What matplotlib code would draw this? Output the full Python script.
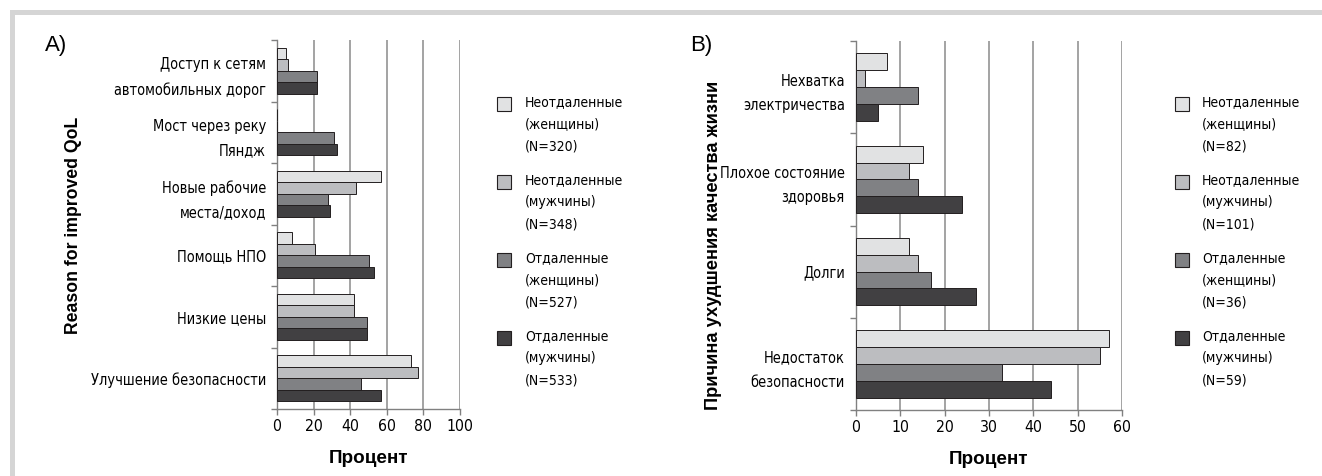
import numpy as np
import matplotlib
matplotlib.use('Agg')
import matplotlib.pyplot as plt
from matplotlib.patches import Rectangle

# DejaVu Sans Condensed stands in for the narrow font of the original
plt.rcParams['font.family'] = ['DejaVu Sans']
plt.rcParams['font.stretch'] = 'condensed'
wide = ['Liberation Sans', 'DejaVu Sans']

# --- data ---
series_names = ['Неотдаленные\n(женщины)', 'Неотдаленные\n(мужчины)',
                'Отдаленные\n(женщины)', 'Отдаленные\n(мужчины)']
colors = ['#e1e2e3', '#bcbdc0', '#808184', '#414042']

cats_a = ['Доступ к сетям\nавтомобильных дорог', 'Мост через реку\nПяндж',
          'Новые рабочие\nместа/доход', 'Помощь НПО', 'Низкие цены',
          'Улучшение безопасности']
vals_a = [
    [5, 0, 57, 8, 42, 73],     # неотдаленные женщины
    [6, 0, 43, 21, 42, 77],    # неотдаленные мужчины
    [22, 31, 28, 50, 49, 46],  # отдаленные женщины
    [22, 33, 29, 53, 49, 57],  # отдаленные мужчины
]
n_a = [320, 348, 527, 533]

cats_b = ['Нехватка\nэлектричества', 'Плохое состояние\nздоровья', 'Долги',
          'Недостаток\nбезопасности']
vals_b = [
    [7, 15, 12, 57],
    [2, 12, 14, 55],
    [14, 14, 17, 33],
    [5, 24, 27, 44],
]
n_b = [82, 101, 36, 59]

W, H = 1322, 476
fig = plt.figure(figsize=(W / 100, H / 100), dpi=100)
fig.patch.set_facecolor('white')
renderer = fig.canvas.get_renderer()


def fit_size(s, target_px, family=None, weight='normal', stretch='condensed'):
    t = fig.text(0, 0, s, fontsize=10, fontweight=weight, fontstretch=stretch,
                 family=family if family else plt.rcParams['font.family'])
    w = t.get_window_extent(renderer).width
    t.remove()
    return 10 * target_px / w


def line_step(size):
    a = fig.text(0, 0, 'Д', fontsize=size, linespacing=1.0)
    b = fig.text(0, 0, 'Д\nД', fontsize=size, linespacing=1.0)
    step = b.get_window_extent(renderer).height - a.get_window_extent(renderer).height
    a.remove()
    b.remove()
    return step


lab_size = min(fit_size('Улучшение безопасности', 176), 12)
tick_size = min(fit_size('100', 27), 12)
leg_size = min(fit_size('Неотдаленные', 98), 12)
xl_size = fit_size('Процент', 79, wide, 'bold', 'normal')
yl_size = fit_size('Reason for improved QoL', 216, wide, 'bold', 'normal')
yl_size_b = fit_size('Причина ухудшения качества жизни', 330, wide, 'bold', 'normal')
lab_ls = 27 / line_step(lab_size)
leg_ls = 24.5 / line_step(leg_size)

# light gray frame on top and left
fig.patches.append(Rectangle((10 / W, 0), 5 / W, 1 - 10 / H, transform=fig.transFigure,
                             facecolor='#d5d5d5', edgecolor='none'))
fig.patches.append(Rectangle((10 / W, 1 - 15 / H), 1 - 10 / W, 5 / H, transform=fig.transFigure,
                             facecolor='#d5d5d5', edgecolor='none'))


def px_box(l, t, r, b):
    return [l / W, 1 - b / H, (r - l) / W, (b - t) / H]


def draw_panel(ax, cats, vals, group_frac, xmax, xstep):
    n = len(cats)
    y = np.arange(n)
    bh = group_frac / 4
    for i, v in enumerate(vals):
        ax.barh(y + (i - 1.5) * bh, v, height=bh, color=colors[i],
                edgecolor='#231f20', linewidth=0.7, zorder=3)
    ax.set_ylim(n - 0.5, -0.5)
    ax.set_xlim(0, xmax)
    ax.set_xticks(np.arange(0, xmax + 1, xstep))
    ax.set_yticks(np.arange(n + 1) - 0.5)
    ax.set_yticklabels([])
    ax.set_yticks(y, minor=True)
    ax.set_yticklabels(cats, minor=True, fontsize=lab_size, linespacing=lab_ls)
    ax.tick_params(axis='y', which='minor', length=0, pad=8)
    ax.tick_params(axis='y', which='major', length=4, color='#808080', width=1)
    ax.tick_params(axis='x', length=4, color='#808080', width=1, labelsize=tick_size, pad=3)
    ax.grid(axis='x', color='#8a8a8a', linewidth=1.1, zorder=0)
    ax.set_axisbelow(True)
    for s in ['top', 'right']:
        ax.spines[s].set_visible(False)
    for s in ['left', 'bottom']:
        ax.spines[s].set_color('#808080')
        ax.spines[s].set_linewidth(1)
    ax.set_xlabel('Процент', fontsize=xl_size, fontweight='bold', family=wide,
                  fontstretch='normal', labelpad=12)


def draw_legend(x_sq, x_txt, ns):
    for i in range(4):
        top = 97 + i * 78
        fig.patches.append(Rectangle((x_sq / W, 1 - (top + 14) / H), 14 / W, 14 / H,
                                     transform=fig.transFigure, facecolor=colors[i],
                                     edgecolor='#231f20', linewidth=0.8))
        fig.text(x_txt / W, 1 - (top - 2) / H, series_names[i] + '\n(N=%d)' % ns[i],
                 ha='left', va='top', fontsize=leg_size, linespacing=leg_ls)


ax_a = fig.add_axes(px_box(277, 40, 460, 409))
draw_panel(ax_a, cats_a, vals_a, 0.75, 100, 20)
ax_b = fig.add_axes(px_box(856, 41, 1122, 410))
draw_panel(ax_b, cats_b, vals_b, 0.73, 60, 10)

draw_legend(497, 525, n_a)
draw_legend(1175, 1202, n_b)

fig.text(73 / W, 1 - 225 / H, 'Reason for improved QoL', rotation=90, ha='center', va='center',
         fontsize=yl_size, fontweight='bold', family=wide, fontstretch='normal')
fig.text(714 / W, 1 - 245 / H, 'Причина ухудшения качества жизни', rotation=90, ha='center',
         va='center', fontsize=yl_size_b, fontweight='bold', family=wide, fontstretch='normal')

fig.text(45 / W, 1 - 46 / H, 'A)', ha='left', va='center', fontsize=16, family=wide,
         fontstretch='normal')
fig.text(690 / W, 1 - 46 / H, 'B)', ha='left', va='center', fontsize=16, family=wide,
         fontstretch='normal')

fig.savefig('out.png', dpi=100)
